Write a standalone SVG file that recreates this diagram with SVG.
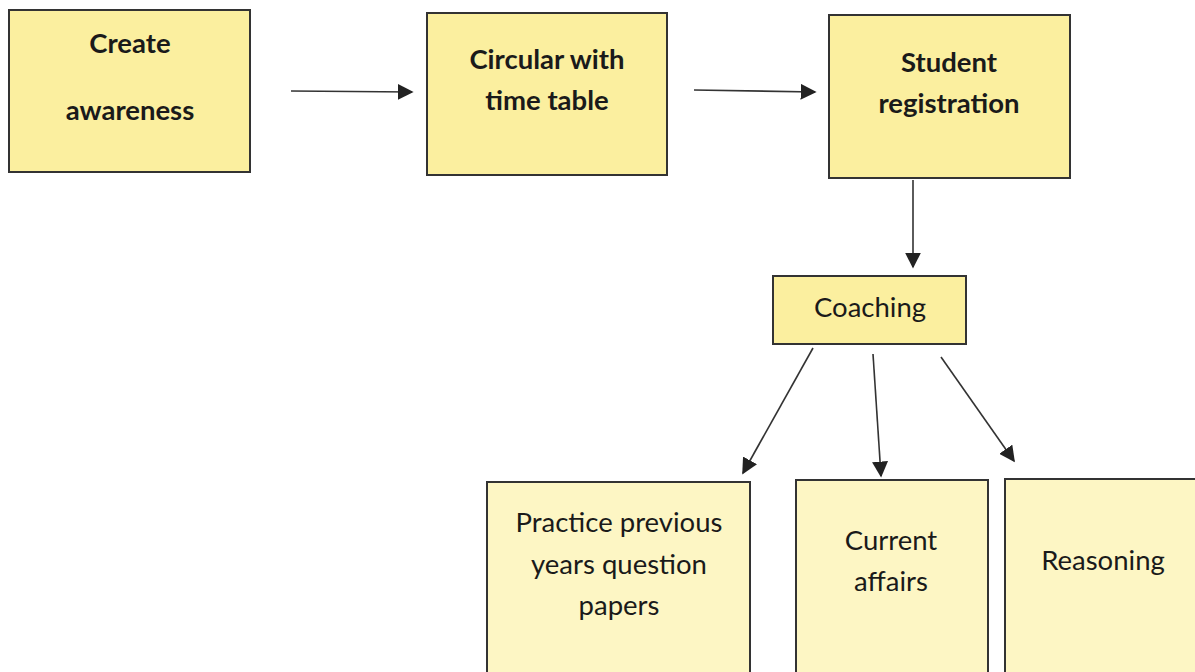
<svg xmlns="http://www.w3.org/2000/svg" width="1195" height="672" viewBox="0 0 1195 672">
<style>
.box{fill:#fbef9f;stroke:#333;stroke-width:2}
.lbox{fill:#fdf6c4;stroke:#333;stroke-width:2}
.b{font-family:Lato,"Liberation Sans",sans-serif;font-weight:bold;font-size:27.5px;fill:#1a1a1a;text-anchor:middle}
.r{font-family:Lato,"Liberation Sans",sans-serif;font-size:27.5px;fill:#1a1a1a;text-anchor:middle}
.c{stroke:#333;stroke-width:1.6;fill:none}
</style>
<defs>
<marker id="ahb" viewBox="0 0 10 10" refX="9" refY="5" markerWidth="16" markerHeight="16" markerUnits="userSpaceOnUse" orient="auto"><path d="M0,0 L10,5 L0,10 z" fill="#222"/></marker>
</defs>
<rect width="1195" height="672" fill="#fff"/>
<g id="create"><rect class="box" x="9" y="10" width="241" height="162"/><text class="b" x="130" y="53">Create</text><text class="b" x="130" y="120">awareness</text></g>
<g id="circular"><rect class="box" x="427" y="13" width="240" height="162"/><text class="b" x="547" y="69">Circular with</text><text class="b" x="547" y="110">time table</text></g>
<g id="registration"><rect class="box" x="829" y="15" width="241" height="163"/><text class="b" x="949" y="72">Student</text><text class="b" x="949" y="113">registration</text></g>
<g id="coaching"><rect class="box" x="773" y="276" width="193" height="68"/><text class="r" x="870" y="317">Coaching</text></g>
<g id="practice"><rect class="lbox" x="487" y="482" width="263" height="200"/><text class="r" x="619" y="532">Practice previous</text><text class="r" x="619" y="574">years question</text><text class="r" x="619" y="615">papers</text></g>
<g id="current"><rect class="lbox" x="796" y="480" width="192" height="202"/><text class="r" x="891" y="550">Current</text><text class="r" x="891" y="591">affairs</text></g>
<g id="reasoning"><rect class="lbox" x="1005" y="479" width="200" height="203"/><text class="r" x="1103" y="570">Reasoning</text></g>
<g id="connectors">
<line class="c" x1="291" y1="91" x2="412" y2="92" marker-end="url(#ahb)"/>
<line class="c" x1="694" y1="90" x2="815" y2="92" marker-end="url(#ahb)"/>
<line class="c" x1="913" y1="180" x2="913" y2="267" stroke-width="2" marker-end="url(#ahb)"/>
<line class="c" x1="813" y1="348" x2="743" y2="473" stroke-width="1.2" marker-end="url(#ahb)"/>
<line class="c" x1="873" y1="354" x2="881" y2="476" stroke-width="1.2" marker-end="url(#ahb)"/>
<line class="c" x1="941" y1="357" x2="1014" y2="461" stroke-width="1.8" marker-end="url(#ahb)"/>
</g>
</svg>
